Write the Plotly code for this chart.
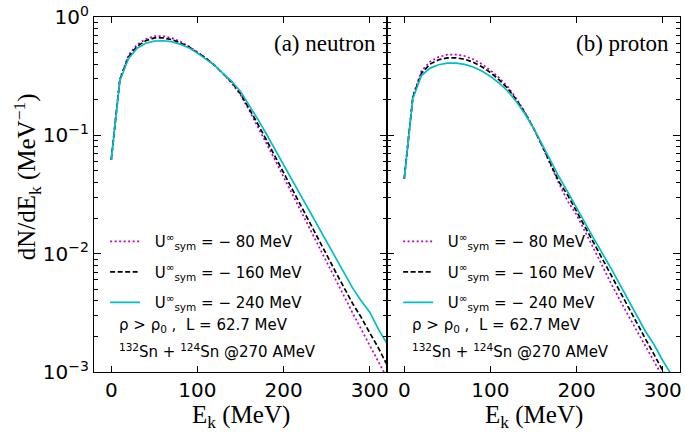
import plotly.graph_objects as go
from plotly.subplots import make_subplots

# kinetic energy grid (MeV)
energy = [0, 10, 20, 30, 40, 50, 60, 70, 80, 90, 100, 110, 120, 130, 140, 150,
          160, 170, 180, 190, 200, 220, 240, 260, 280, 290, 300, 310, 320]

# (a) neutron spectra dN/dE_k
neutron_m80 = [0.062, 0.30, 0.475, 0.585, 0.65, 0.69, 0.69, 0.665, 0.62, 0.565, 0.505,
               0.45, 0.39, 0.332, 0.275, 0.22, 0.163, 0.119, 0.0865, 0.062, 0.0444,
               0.0228, 0.0117, 0.0060, 0.00316, 0.0023, 0.00166, 0.00122, 0.00089]
neutron_m160 = [0.062, 0.295, 0.46, 0.565, 0.63, 0.665, 0.665, 0.645, 0.605, 0.56, 0.50,
                0.447, 0.39, 0.333, 0.28, 0.225, 0.169, 0.125, 0.0917, 0.0664, 0.0481,
                0.0252, 0.0132, 0.0071, 0.0038, 0.0029, 0.00214, 0.0016, 0.00115]
neutron_m240 = [0.062, 0.29, 0.445, 0.545, 0.60, 0.625, 0.63, 0.62, 0.59, 0.55, 0.495,
                0.443, 0.39, 0.333, 0.285, 0.235, 0.18, 0.137, 0.1026, 0.076, 0.0564,
                0.031, 0.017, 0.00935, 0.00514, 0.0040, 0.0032, 0.0023, 0.00174]

# (b) proton spectra dN/dE_k
proton_m80 = [0.043, 0.215, 0.35, 0.42, 0.46, 0.48, 0.482, 0.468, 0.44, 0.40, 0.355,
              0.307, 0.258, 0.205, 0.157, 0.115, 0.081, 0.055, 0.0385, 0.0275, 0.0213,
              0.011, 0.0056, 0.0030, 0.00163, 0.0012, 0.00089, 0.00065, 0.0005]
proton_m160 = [0.043, 0.21, 0.335, 0.40, 0.435, 0.452, 0.452, 0.44, 0.415, 0.38, 0.34,
               0.295, 0.25, 0.20, 0.155, 0.115, 0.082, 0.057, 0.040, 0.031, 0.023,
               0.0123, 0.0066, 0.0035, 0.0019, 0.0014, 0.00102, 0.00075, 0.00055]
proton_m240 = [0.043, 0.205, 0.32, 0.37, 0.395, 0.408, 0.408, 0.398, 0.378, 0.35, 0.315,
               0.277, 0.237, 0.193, 0.152, 0.115, 0.084, 0.061, 0.044, 0.033, 0.0242,
               0.0134, 0.0075, 0.0041, 0.0022, 0.0017, 0.00125, 0.00095, 0.0007]

series_labels = ["\u00a0\u00a0U<sup>∞</sup><sub>sym</sub> = − 80 MeV",
                 "\u00a0\u00a0U<sup>∞</sup><sub>sym</sub> = − 160 MeV",
                 "\u00a0\u00a0U<sup>∞</sup><sub>sym</sub> = − 240 MeV"]
panel_labels = ["(a) neutron", "(b) proton"]
x_ticks = [0, 100, 200, 300]
y_ticks = [1e-3, 1e-2, 1e-1, 1]
y_ticktext = ["10<sup>−3</sup>", "10<sup>−2</sup>", "10<sup>−1</sup>", "10<sup>0</sup>"]
y_minor = [m * 10.0 ** d for d in (-3, -2, -1) for m in range(2, 10)]

colors = ["#bf00bf", "black", "#00bfbf"]
dashes = ["2px,2.5px", "5px,2.5px", "solid"]

fig = make_subplots(rows=1, cols=2, horizontal_spacing=0)

panels = [[neutron_m80, neutron_m160, neutron_m240],
          [proton_m80, proton_m160, proton_m240]]
for col, curves in enumerate(panels, start=1):
    for i, ys in enumerate(curves):
        fig.add_trace(go.Scatter(
            x=energy, y=ys, mode="lines", name=series_labels[i],
            line=dict(color=colors[i], width=1.7, dash=dashes[i]),
            legend="legend" if col == 1 else "legend2",
            legendgroup=f"p{col}s{i}", showlegend=True,
        ), row=1, col=col)

serif = "Liberation Serif"
sans = "DejaVu Sans"

axis_common = dict(showline=True, linecolor="black", linewidth=1.4, mirror="allticks",
                   ticks="inside", tickcolor="black", tickwidth=1.1, showgrid=False,
                   zeroline=False, ticklabeloverflow="allow",
                   tickfont=dict(family=sans, size=20, color="black"))

for col in (1, 2):
    fig.update_xaxes(range=[-20, 320], tickvals=x_ticks, ticklen=6, row=1, col=col, **axis_common)
    fig.update_yaxes(type="log", range=[-3, 0], tickvals=y_ticks, ticktext=y_ticktext,
                     ticklen=7, showticklabels=(col == 1),
                     minor=dict(ticks="inside", ticklen=4, tickvals=y_minor,
                                tickcolor="black", tickwidth=1),
                     row=1, col=col, **axis_common)

legend_common = dict(yanchor="top", y=0.414, bgcolor="rgba(0,0,0,0)",
                     font=dict(family=sans, size=15, color="black"),
                     tracegroupgap=8)
fig.update_layout(
    width=685, height=432,
    margin=dict(l=94, r=3, t=11, b=60),
    paper_bgcolor="white", plot_bgcolor="white",
    legend=dict(x=0.019, xanchor="left", **legend_common),
    legend2=dict(x=0.519, xanchor="left", **legend_common),
)

for k, xd in enumerate(["x domain", "x2 domain"]):
    fig.add_annotation(text=panel_labels[k], xref=xd, yref="y domain", x=0.97, y=0.925,
                       xanchor="right", yanchor="middle", showarrow=False,
                       font=dict(family=serif, size=23, color="black"))
    fig.add_annotation(text="ρ > ρ<sub>0</sub> ,  L = 62.7 MeV", xref=xd, yref="y domain",
                       x=0.08, y=0.13, xanchor="left", yanchor="middle", showarrow=False,
                       font=dict(family=sans, size=15, color="black"))
    fig.add_annotation(text="<sup>132</sup>Sn + <sup>124</sup>Sn @270 AMeV", xref=xd,
                       yref="y domain", x=0.08, y=0.058, xanchor="left", yanchor="middle",
                       showarrow=False, font=dict(family=sans, size=15, color="black"))
    fig.add_annotation(text="E<sub>k</sub> (MeV)", xref=xd, yref="paper", x=0.5, y=-0.126,
                       xanchor="center", yanchor="middle", showarrow=False,
                       font=dict(family=serif, size=25, color="black"))

fig.add_annotation(text="dN/dE<sub>k</sub> (MeV<sup>−1</sup>)", xref="paper", yref="paper",
                   x=-0.115, y=0.55, xanchor="center", yanchor="middle", textangle=-90,
                   showarrow=False, font=dict(family=serif, size=25, color="black"))

fig.write_html("out.html", config={"displayModeBar": False},
               post_script="document.body.style.margin='0px';")
